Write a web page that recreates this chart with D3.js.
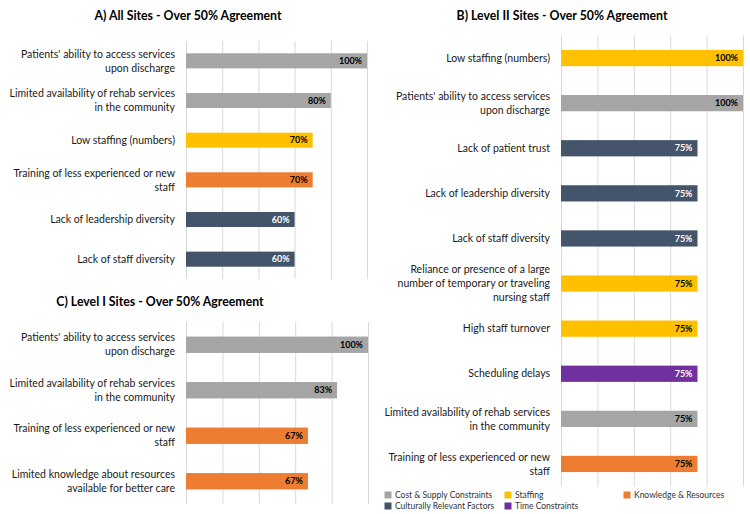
<!doctype html>
<meta charset="utf-8">
<title>Barriers - Over 50% Agreement</title>
<style>
  body { margin: 0; background: #fff; }
  svg { display: block; font-family: Lato, "Open Sans", sans-serif; }
  .grid line { stroke: #d9d9d9; stroke-width: 1; }
  .grid .domain { display: none; }
</style>
<svg id="chart" width="750" height="514"></svg>
<script src="https://cdn.jsdelivr.net/npm/d3@7"></script>
<script>

// categories (\n marks the line break used in the original)
var labelsA = [
  "Patients' ability to access services\nupon discharge",
  "Limited availability of rehab services\nin the community",
  "Low staffing (numbers)",
  "Training of less experienced or new\nstaff",
  "Lack of leadership diversity",
  "Lack of staff diversity"
];
var valuesA = [100, 80, 70, 70, 60, 60];
var groupsA = ["cost", "cost", "staff", "know", "culture", "culture"];

var labelsB = [
  "Low staffing (numbers)",
  "Patients' ability to access services\nupon discharge",
  "Lack of patient trust",
  "Lack of leadership diversity",
  "Lack of staff diversity",
  "Reliance or presence of a large\nnumber of temporary or traveling\nnursing staff",
  "High staff turnover",
  "Scheduling delays",
  "Limited availability of rehab services\nin the community",
  "Training of less experienced or new\nstaff"
];
var valuesB = [100, 100, 75, 75, 75, 75, 75, 75, 75, 75];
var groupsB = ["staff", "cost", "culture", "culture", "culture", "staff", "staff", "time", "cost", "know"];

var labelsC = [
  "Patients' ability to access services\nupon discharge",
  "Limited availability of rehab services\nin the community",
  "Training of less experienced or new\nstaff",
  "Limited knowledge about resources\navailable for better care"
];
var valuesC = [100, 83, 67, 67];
var groupsC = ["cost", "cost", "know", "know"];

var groupKeys = ["cost", "staff", "know", "culture", "time"];
var groupNames = ["Cost & Supply Constraints", "Staffing", "Knowledge & Resources", "Culturally Relevant Factors", "Time Constraints"];
var groupColors = ["#a5a5a5", "#ffc000", "#ed7d31", "#44546a", "#7030a0"];
var gridTicks = [0, 20, 40, 60, 80, 100];

var color = d3.scaleOrdinal().domain(groupKeys).range(groupColors);
var darkGroups = ["culture", "time"];

var svg = d3.select("#chart");

function panel(opts) {
  var g = svg.append("g");

  var x = d3.scaleLinear().domain([0, 100]).range([opts.x0, opts.x1]);
  var y = d3.scaleBand()
    .domain(d3.range(opts.labels.length))
    .range([opts.y0, opts.y1])
    .paddingInner(opts.pad)
    .paddingOuter(opts.pad / 2);

  g.append("text")
    .attr("x", opts.titleX)
    .attr("y", opts.titleY)
    .attr("text-anchor", "middle")
    .attr("font-size", 12.3)
    .attr("font-weight", "bold")
    .attr("fill", "#000")
    .text(opts.title);

  g.append("g")
    .attr("class", "grid")
    .attr("transform", "translate(0," + opts.y1 + ")")
    .call(d3.axisBottom(x).tickValues(gridTicks).tickSize(-(opts.y1 - opts.y0)).tickFormat(""));

  var rows = g.selectAll(".row")
    .data(opts.labels.map(function(d, i) {
      return {label: d, value: opts.values[i], group: opts.groups[i], i: i};
    }))
    .enter()
    .append("g")
    .attr("class", "row");

  rows.append("rect")
    .attr("x", x(0))
    .attr("y", function(d) { return y(d.i); })
    .attr("width", function(d) { return x(d.value) - x(0); })
    .attr("height", y.bandwidth())
    .attr("fill", function(d) { return color(d.group); });

  rows.append("text")
    .attr("x", function(d) { return x(d.value) - 5; })
    .attr("y", function(d) { return y(d.i) + y.bandwidth() / 2; })
    .attr("dy", "0.35em")
    .attr("text-anchor", "end")
    .attr("font-size", 9)
    .attr("font-weight", "bold")
    .attr("fill", function(d) { return darkGroups.indexOf(d.group) >= 0 ? "#fff" : "#000"; })
    .text(function(d) { return d.value + "%"; });

  var lineH = 14;
  rows.append("text")
    .attr("text-anchor", "end")
    .attr("font-size", 10.5)
    .attr("fill", "#1a1a1a")
    .each(function(d) {
      var lines = d.label.split("\n");
      var cy = y(d.i) + y.bandwidth() / 2 - (lines.length - 1) * lineH / 2;
      var t = d3.select(this);
      lines.forEach(function(s, k) {
        t.append("tspan")
          .attr("x", opts.x0 - 11)
          .attr("y", cy + k * lineH)
          .attr("dy", "0.35em")
          .text(s);
      });
    });
}

panel({
  title: "A) All Sites - Over 50% Agreement", titleX: 188, titleY: 20,
  labels: labelsA, values: valuesA, groups: groupsA,
  x0: 186, x1: 367, y0: 41, y1: 279, pad: 0.62
});

panel({
  title: "B) Level II Sites - Over 50% Agreement", titleX: 562, titleY: 20,
  labels: labelsB, values: valuesB, groups: groupsB,
  x0: 561, x1: 743, y0: 35.5, y1: 486.5, pad: 0.64
});

panel({
  title: "C) Level I Sites - Over 50% Agreement", titleX: 160, titleY: 306,
  labels: labelsC, values: valuesC, groups: groupsC,
  x0: 186, x1: 368, y0: 322, y1: 504, pad: 0.64
});

// legend
var legendPos = [[388, 495], [508, 495], [627, 495], [388, 506], [508, 506]];
var legend = svg.selectAll(".legend")
  .data(groupKeys)
  .enter()
  .append("g")
  .attr("class", "legend")
  .attr("transform", function(d, i) { return "translate(" + legendPos[i][0] + "," + legendPos[i][1] + ")"; });

legend.append("rect")
  .attr("x", -3.5)
  .attr("y", -3.5)
  .attr("width", 7)
  .attr("height", 7)
  .attr("fill", function(d) { return color(d); });

legend.append("text")
  .attr("x", 7)
  .attr("dy", "0.35em")
  .attr("font-size", 8.5)
  .attr("fill", "#333")
  .text(function(d, i) { return groupNames[i]; });

</script>
